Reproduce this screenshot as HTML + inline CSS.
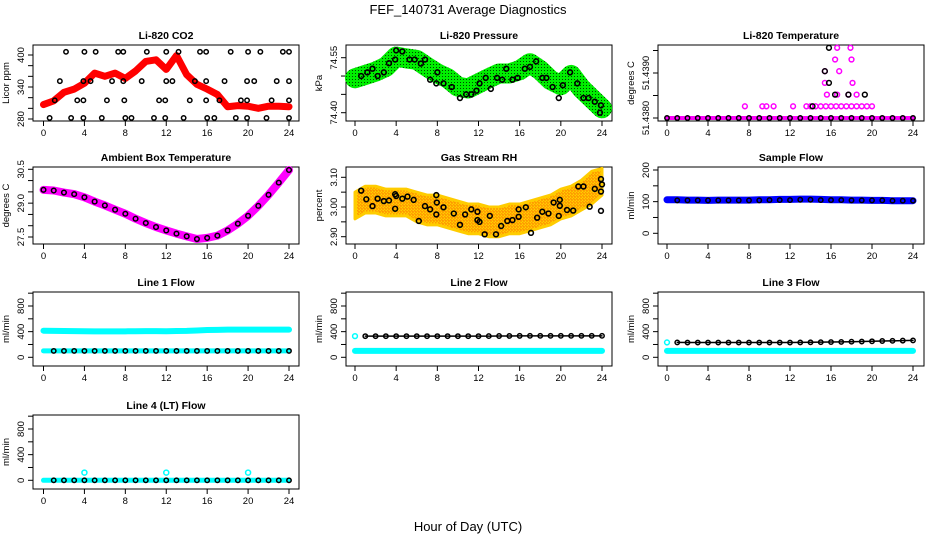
<!DOCTYPE html>
<html><head><meta charset="utf-8"><style>
body{margin:0;background:#fff}
svg{display:block}
text{font-family:"Liberation Sans",Arial,sans-serif;fill:#000}
</style></head><body>
<svg id="chart" width="936" height="540" viewBox="0 0 936 540" xmlns="http://www.w3.org/2000/svg">
<defs>
<pattern id="greenPat" width="3" height="3" patternUnits="userSpaceOnUse"><rect width="3" height="3" fill="#00ee00"/><rect x="1" y="1" width="1" height="1" fill="#004400"/></pattern>
<pattern id="rhPat" width="3" height="3" patternUnits="userSpaceOnUse"><rect width="3" height="3" fill="#ffd000"/><rect x="0" y="0" width="1.5" height="1.5" fill="#ff9900"/><rect x="1.5" y="1.5" width="1" height="1" fill="#ff2200"/></pattern>
</defs>
<text x="468" y="14" text-anchor="middle" font-size="13">FEF_140731  Average Diagnostics</text>
<text x="468" y="531" text-anchor="middle" font-size="13">Hour of Day (UTC)</text>
</svg>
<script>
const hours = [0,1,2,3,4,5,6,7,8,9,10,11,12,13,14,15,16,17,18,19,20,21,22,23,24];
const xTicks = [0,4,8,12,16,20,24];
// CO2
const co2Red = [307,314,330,336,347,366,360,366,356,370,388,391,373,399,363,345,336,326,303,305,304,300,304,304,303];
const co2BlackH = [2.2,4.0,5.1,7.3,7.8,10.1,12.0,13.2,15.3,15.9,18.3,20.0,21.2,23.4,24.0,1.6,3.9,4.6,6.7,7.8,9.6,12.0,12.6,14.8,15.9,17.7,19.9,20.6,22.8,24.0,1.1,3.3,3.9,6.2,7.9,11.3,11.9,14.3,15.9,17.2,19.3,19.9,22.3,24.0,0.6,2.7,3.9,5.7,8.0,8.6,10.8,11.9,13.7,16.0,16.7,18.8,19.9,21.8,24.0];
const co2BlackV = [406,406,406,406,406,406,406,406,406,406,406,406,406,406,406,351,351,351,351,351,351,351,351,351,351,351,351,351,351,351,315,315,315,315,315,315,315,315,315,315,315,315,315,315,282,282,282,282,282,282,282,282,282,282,282,282,282,282,282];
// Pressure
const presGreen = [74.494,74.503,74.512,74.525,74.553,74.548,74.544,74.525,74.507,74.494,74.471,74.466,74.480,74.494,74.507,74.507,74.516,74.535,74.516,74.489,74.475,74.503,74.466,74.439,74.412];
const presBlackH = [0.6,1.2,1.7,2.2,2.8,3.3,3.9,4.0,4.6,5.3,5.8,6.4,6.8,7.3,7.9,8.0,8.6,9.4,10.2,10.8,11.3,11.8,12.1,12.7,13.2,13.8,14.3,14.7,15.3,15.8,16.5,17.0,17.6,18.2,18.6,19.2,19.8,20.2,20.9,21.6,22.2,22.7,23.3,23.8,23.9];
const presBlackV = [74.500,74.510,74.520,74.500,74.510,74.535,74.545,74.570,74.567,74.545,74.545,74.534,74.545,74.490,74.480,74.510,74.480,74.470,74.440,74.450,74.450,74.460,74.480,74.495,74.465,74.495,74.490,74.520,74.490,74.495,74.520,74.525,74.540,74.495,74.495,74.470,74.440,74.475,74.510,74.480,74.440,74.440,74.430,74.400,74.420];
// Li-820 temperature
const liBaseV = [51.4380,51.4380,51.4380,51.4380,51.4380,51.4380,51.4380,51.4380,51.4380,51.4380,51.4380,51.4380,51.4380,51.4380,51.4380,51.4380,51.4380,51.4380,51.4380,51.4380,51.4380,51.4380,51.4380,51.4380,51.4380];
const liMagH = [7.6,9.3,9.7,10.4,12.3,13.6,14.0,14.5,15.0,15.5,16.0,16.5,17.0,17.5,18.0,18.5,19.0,19.5,20.0,15.6,16.6,17.7,18.5,15.4,18.1,16.8,15.4,16.4,18.0,16.6,17.9];
const liMagV = [51.43826,51.43826,51.43826,51.43826,51.43826,51.43826,51.43826,51.43826,51.43826,51.43826,51.43826,51.43826,51.43826,51.43826,51.43826,51.43826,51.43826,51.43826,51.43826,51.43852,51.43852,51.43852,51.43852,51.43878,51.43878,51.43904,51.43904,51.43930,51.43930,51.43956,51.43956];
const liBlackH = [14.2,16.4,17.7,19.3,15.8,15.4,15.8];
const liBlackV = [51.43826,51.43852,51.43852,51.43852,51.43878,51.43904,51.43956];
// Ambient box temperature
const ambTemp = [29.59,29.56,29.47,29.40,29.26,29.07,28.90,28.71,28.53,28.31,28.12,27.94,27.79,27.65,27.53,27.41,27.46,27.56,27.79,28.09,28.44,28.88,29.37,29.91,30.47];
// Gas stream RH
const rhUpper = [3.05,3.07,3.07,3.06,3.06,3.06,3.05,3.04,3.04,3.03,3.02,3.01,3.01,3.00,3.00,3.01,3.01,3.02,3.03,3.04,3.06,3.07,3.09,3.12,3.13];
const rhLower = [2.96,2.98,2.98,2.97,2.97,2.97,2.95,2.94,2.94,2.93,2.92,2.91,2.91,2.90,2.90,2.91,2.91,2.92,2.93,2.94,2.96,2.97,2.99,3.01,3.04];
const rhBlackH = [0.6,1.1,1.7,2.2,2.8,3.3,3.9,3.9,4.0,4.6,5.1,5.7,6.2,6.8,7.3,7.9,7.95,7.9,8.6,9.6,10.2,10.7,11.3,11.9,11.9,12.1,12.6,13.1,13.7,14.2,14.8,15.3,15.9,15.9,16.6,17.1,17.7,18.2,18.8,19.3,19.8,19.9,19.9,20.6,21.2,21.7,22.2,22.8,23.3,23.9,23.9,24.0,23.9];
const rhBlackV = [3.055,3.026,3.003,3.028,3.020,3.022,3.043,2.994,3.037,3.028,3.035,3.024,2.953,3.003,2.992,3.040,3.015,2.975,2.999,2.978,2.940,2.975,2.992,2.984,2.956,2.950,2.908,2.970,2.908,2.936,2.953,2.956,2.992,2.967,2.999,2.913,2.964,2.984,2.978,3.015,2.970,3.004,3.024,2.990,2.988,3.069,3.069,3.001,3.061,3.094,3.052,3.076,2.987];
// Sample flow
const sampleBlue = [106,106,105,105,104,105,105,105,105,106,106,107,107,108,108,107,106,106,105,105,104,104,103,103,103];
const sampleBlack = [104,104,104,104,104,104,104,104,104,104,105,105,105,106,106,105,105,105,104,104,104,104,103,103,103];
// Line flows
const line1Cyan = [415,413,410,408,406,405,405,405,405,407,408,408,406,410,412,418,425,428,432,432,432,432,432,432,432];
const line1Black = [100,100,100,100,100,100,100,100,100,100,100,100,100,100,100,100,100,100,100,100,100,100,100,100,100];
const line2Black = [330,330,330,330,330,330,330,330,330,330,330,330,330,331,332,333,334,335,335,335,335,335,335,335,335];
const line3Black = [232,232,230,230,230,230,230,230,230,230,230,230,230,232,234,236,238,240,243,246,250,254,257,260,263];
const lineLowCyan = [100,100,100,100,100,100,100,100,100,100,100,100,100,100,100,100,100,100,100,100,100,100,100,100,100];
const line4Black = [0,0,0,0,0,0,0,0,0,0,0,0,0,0,0,0,0,0,0,0,0,0,0,0,0];
const line4OutH = [4,12,20];
const line4OutV = [120,120,120];

const NS = "http://www.w3.org/2000/svg";
const svg = document.getElementById('chart');
function el(tag, attrs, parent){const e=document.createElementNS(NS,tag);for(const k in attrs)e.setAttribute(k,attrs[k]);(parent||svg).appendChild(e);return e;}

const cols = [{bl:33,br:299,x0:43.5,x24:289},{bl:346,br:612,x0:355,x24:602},{bl:658,br:924,x0:667,x24:913}];
const rows = [{t:45,b:121},{t:167,b:244},{t:292,b:366},{t:415,b:489}];

function panel(o){
  const c=cols[o.col], r=rows[o.row];
  const g=el('g',{});
  
  
  const X=h=>c.x0+(c.x24-c.x0)*h/24;
  const Y=v=>o.p1+(o.p2-o.p1)*(v-o.v1)/(o.v2-o.v1);
  const t=el('text',{x:(c.bl+c.br)/2,y:r.t-6,'text-anchor':'middle','font-size':'10.5','font-weight':'bold'},g);
  t.textContent=o.title;
  
  
  const box=el('rect',{x:c.bl,y:r.t,width:c.br-c.bl,height:r.b-r.t,fill:'none',stroke:'#000','stroke-width':1},g);
  
  
  const ax=el('g',{},g);
  
  
  el('line',{x1:X(0),x2:X(24),y1:r.b,y2:r.b,stroke:'#000'},ax);
  xTicks.forEach(h=>{
    el('line',{x1:X(h),x2:X(h),y1:r.b,y2:r.b+5,stroke:'#000'},ax);
    const lt=el('text',{x:X(h),y:r.b+15,'text-anchor':'middle','font-size':'9.5'},ax);
    lt.textContent=h;
    
    
  });
  const ay=el('g',{},g);
  
  
  el('line',{x1:c.bl,x2:c.bl,y1:Y(o.ticks[0]),y2:Y(o.ticks[o.ticks.length-1]),stroke:'#000'},ay);
  o.ticks.forEach(v=>el('line',{x1:c.bl-5,x2:c.bl,y1:Y(v),y2:Y(v),stroke:'#000'},ay));
  o.labels.forEach(l=>{
    const yy=Y(parseFloat(l)), xx=c.bl-9;
    const lt=el('text',{x:xx,y:yy,'text-anchor':'middle','font-size':'9.5',transform:`rotate(-90 ${xx} ${yy})`},ay);
    lt.textContent=l;
    
    
  });
  const yx=c.bl-24, ym=(r.t+r.b)/2;
  const yt=el('text',{x:yx,y:ym,'text-anchor':'middle','font-size':'9.5',transform:`rotate(-90 ${yx} ${ym})`},g);
  yt.textContent=o.ytitle;
  
  
  return {g,X,Y};
}
function band(p,hs,vs,color,w,name){
  const pts=hs.map((h,i)=>p.X(h)+','+p.Y(vs[i])).join(' ');
  const l=el('polyline',{points:pts,fill:'none',stroke:color,'stroke-width':w,'stroke-linejoin':'round','stroke-linecap':'round'},p.g);
  
  
}
function dots(p,hs,vs,color,r,sw,name){
  const g=el('g',{},p.g);
  
  
  hs.forEach((h,i)=>{
    const c=el('circle',{cx:p.X(h),cy:p.Y(vs[i]),r:r,fill:'none',stroke:color,'stroke-width':sw},g);
    
    
  });
}
function rng(a,b,s){const o=[];for(let v=a;v<=b+1e-9;v+=s)o.push(+v.toFixed(5));return o;}

let p=panel({name:'co2-panel',title:'Li-820 CO2',ytitle:'Licor ppm',col:0,row:0,v1:280,p1:119,v2:400,p2:55,ticks:rng(280,400,20),labels:['280','340','400']});
band(p,hours,co2Red,'#ff0000',7,'co2-red-series');
dots(p,hours,co2Red,'#ff0000',2.5,1.5,'co2-red-points');
dots(p,co2BlackH,co2BlackV,'#000',2.2,1.5,'co2-black-points');

p=panel({name:'pressure-panel',title:'Li-820 Pressure',ytitle:'kPa',col:1,row:0,v1:74.40,p1:112.7,v2:74.55,p2:57.7,ticks:rng(74.40,74.55,0.05),labels:['74.40','74.55']});
band(p,hours,presGreen,'url(#greenPat)',20,'pressure-green-band');
dots(p,presBlackH,presBlackV,'#000',2.4,1.6,'pressure-black-points');

p=panel({name:'li820-temp-panel',title:'Li-820 Temperature',ytitle:'degrees C',col:2,row:0,v1:51.4380,p1:118,v2:51.4390,p2:73,ticks:[51.4380,51.4385,51.4390,51.4395],labels:['51.4380','51.4390']});
band(p,hours,liBaseV,'#ff00ff',4,'litemp-base-band');
dots(p,hours,liBaseV,'#000',2.2,1.5,'litemp-black-base');
dots(p,liMagH,liMagV,'#ff00ff',2.4,1.5,'litemp-magenta-points');
dots(p,liBlackH,liBlackV,'#000',2.4,1.5,'litemp-black-points');

p=panel({name:'ambient-temp-panel',title:'Ambient Box Temperature',ytitle:'degrees C',col:0,row:1,v1:27.5,p1:237,v2:30.5,p2:169.3,ticks:rng(27.5,30.5,0.5),labels:['27.5','29.0','30.5']});
band(p,hours,ambTemp,'#ff00ff',8,'ambient-magenta-band');
dots(p,hours,ambTemp,'#000',2.3,1.5,'ambient-black-points');

p=panel({name:'rh-panel',title:'Gas Stream RH',ytitle:'percent',col:1,row:1,v1:2.90,p1:236.7,v2:3.10,p2:177.3,ticks:rng(2.90,3.10,0.05),labels:['2.90','3.00','3.10']});
{
  const pts=hours.map((h,i)=>p.X(h)+','+p.Y(rhUpper[i])).concat(hours.slice().reverse().map((h,j)=>p.X(h)+','+p.Y(rhLower[hours.length-1-j]))).join(' ');
  const pg=el('polygon',{points:pts,fill:'url(#rhPat)',stroke:'#ffcc00','stroke-width':3,'stroke-linejoin':'round'},p.g);
  
  
}
dots(p,rhBlackH,rhBlackV,'#000',2.4,1.6,'rh-black-points');

p=panel({name:'sample-flow-panel',title:'Sample Flow',ytitle:'ml/min',col:2,row:1,v1:0,p1:233.3,v2:200,p2:170,ticks:rng(0,200,50),labels:['0','100','200']});
band(p,hours,sampleBlue,'#0000ff',7,'sample-blue-band');
dots(p,hours.slice(1),sampleBlack.slice(1),'#000',2.2,1.5,'sample-black-points');

function flowPanel(name,title,col,row,p0,p800){
  return panel({name,title,ytitle:'ml/min',col,row,v1:0,p1:p0,v2:800,p2:p800,ticks:rng(0,1000,200),labels:['0','400','800']});
}
p=flowPanel('line1-flow-panel','Line 1 Flow',0,2,357.3,306);
band(p,hours,line1Cyan,'#00ffff',6,'line1-cyan-high');
band(p,hours,lineLowCyan,'#00ffff',5,'line1-cyan-low');
dots(p,hours.slice(1),line1Black.slice(1),'#000',2.2,1.5,'line1-black-points');

p=flowPanel('line2-flow-panel','Line 2 Flow',1,2,357.3,306);
band(p,hours,lineLowCyan,'#00ffff',6,'line2-cyan-low');
dots(p,hours.slice(0,1),line2Black.slice(0,1),'#00ffff',2.4,1.5,'line2-cyan-point');
dots(p,hours.slice(1),line2Black.slice(1),'#000',2.2,1.5,'line2-black-points');
band(p,hours.slice(1),line2Black.slice(1),'#000',1.5,'line2-black-line');

p=flowPanel('line3-flow-panel','Line 3 Flow',2,2,357.3,306);
band(p,hours,lineLowCyan,'#00ffff',6,'line3-cyan-low');
dots(p,hours.slice(0,1),line3Black.slice(0,1),'#00ffff',2.4,1.5,'line3-cyan-point');
dots(p,hours.slice(1),line3Black.slice(1),'#000',2.2,1.5,'line3-black-points');
band(p,hours.slice(1),line3Black.slice(1),'#000',1.5,'line3-black-line');

p=flowPanel('line4-flow-panel','Line 4 (LT) Flow',0,3,480.3,429);
band(p,hours,line4Black,'#00ffff',5,'line4-cyan-band');
dots(p,hours.slice(1),line4Black.slice(1),'#000',2.2,1.5,'line4-black-points');
dots(p,line4OutH,line4OutV,'#00ffff',2.5,1.5,'line4-cyan-outliers');
</script>
</body></html>
